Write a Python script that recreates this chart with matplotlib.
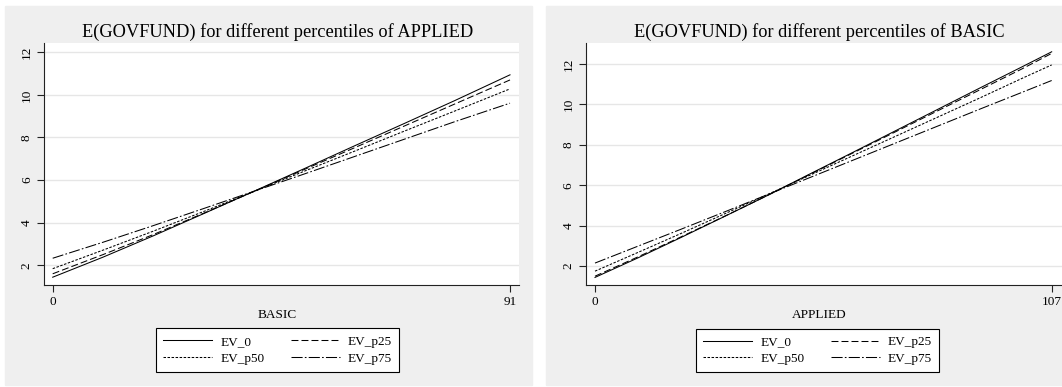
"""Two Stata-style panels: expected GOVFUND across one regressor, one line per percentile of the other."""

import matplotlib

matplotlib.use("Agg")
import matplotlib.pyplot as plt
from matplotlib.patches import Rectangle

W, H = 1062, 387

# ---- data --------------------------------------------------------------------------------------
series_names = ["EV_0", "EV_p25", "EV_p50", "EV_p75"]

basic_x = [0, 10, 20, 30, 40, 50, 60, 70, 80, 91]
left_ev_0 = [1.44, 2.38, 3.38, 4.42, 5.47, 6.53, 7.60, 8.66, 9.73, 10.94]
left_ev_p25 = [1.60, 2.50, 3.44, 4.44, 5.46, 6.49, 7.51, 8.54, 9.57, 10.70]
left_ev_p50 = [1.84, 2.71, 3.60, 4.52, 5.46, 6.41, 7.35, 8.30, 9.24, 10.28]
left_ev_p75 = [2.33, 3.08, 3.86, 4.66, 5.47, 6.28, 7.10, 7.92, 8.74, 9.61]

applied_x = [0, 10, 20, 30, 40, 50, 60, 70, 80, 90, 100, 107]
right_ev_0 = [1.44, 2.40, 3.40, 4.42, 5.45, 6.52, 7.58, 8.65, 9.72, 10.79, 11.85, 12.60]
right_ev_p25 = [1.50, 2.45, 3.43, 4.43, 5.45, 6.50, 7.55, 8.60, 9.65, 10.70, 11.75, 12.52]
right_ev_p50 = [1.75, 2.67, 3.60, 4.55, 5.50, 6.46, 7.42, 8.38, 9.34, 10.30, 11.28, 11.95]
right_ev_p75 = [2.15, 2.98, 3.81, 4.65, 5.50, 6.35, 7.20, 8.05, 8.90, 9.75, 10.59, 11.18]

y_ticks = [2, 4, 6, 8, 10, 12]

# ---- style ---------------------------------------------------------------------------------------
plt.rcParams["font.family"] = ["Liberation Serif", "DejaVu Serif"]
plt.rcParams["lines.scale_dashes"] = False

PANEL_BG = "#efefef"
GRID = "#e6e6e6"
AXIS = "#222222"
STYLES = [
    dict(ls="-"),
    dict(dashes=(5, 2.2)),
    dict(dashes=(1.8, 1.1)),
    dict(dashes=(8, 1.6, 1.2, 1.6)),
]


def fx(px):
    return px / W


def fy(py):
    return 1 - py / H


fig = plt.figure(figsize=(W / 100, H / 100), dpi=100)

# grey backgrounds behind each graph
for x0, x1 in [(5, 531.5), (546, 1062)]:
    fig.patches.append(Rectangle((fx(x0), fy(385)), fx(x1 - x0), (385 - 6) / H,
                                 transform=fig.transFigure, color=PANEL_BG, zorder=-10))

panels = [
    dict(box=(44, 519.3, 43.3, 285.3), xlim=(-1.73, 92.85), ylim=(1.06, 12.42), x=basic_x,
         ys=[left_ev_0, left_ev_p25, left_ev_p50, left_ev_p75], xticks=[0, 91],
         title="E(GOVFUND) for different percentiles of APPLIED", xlabel="BASIC",
         legend=(158, 397, 328, 372)),
    dict(box=(585.7, 1061.5, 43.3, 285.3), xlim=(-2.18, 109.3), ylim=(1.05, 13.02), x=applied_x,
         ys=[right_ev_0, right_ev_p25, right_ev_p50, right_ev_p75], xticks=[0, 107],
         title="E(GOVFUND) for different percentiles of BASIC", xlabel="APPLIED",
         legend=(699, 936, 329, 372)),
]

for p in panels:
    l, r, t, b = p["box"]
    ax = fig.add_axes([fx(l), fy(b), fx(r - l), (b - t) / H])
    ax.set_zorder(1)
    ax.set_facecolor("white")
    for yt in y_ticks:
        ax.axhline(yt, color=GRID, lw=1.0, zorder=0)
    for ys, name, st in zip(p["ys"], series_names, STYLES):
        ax.plot(p["x"], ys, color="black", lw=0.75, label=name, **st)
    ax.set_xlim(*p["xlim"])
    ax.set_ylim(*p["ylim"])
    ax.set_xticks(p["xticks"])
    ax.set_yticks(y_ticks)
    ax.set_yticklabels([str(v) for v in y_ticks], rotation=90, va="center")
    ax.tick_params(length=5, width=0.8, color=AXIS, labelsize=9.5, pad=3)
    for side in ("top", "right"):
        ax.spines[side].set_visible(False)
    for side in ("left", "bottom"):
        ax.spines[side].set_color(AXIS)
        ax.spines[side].set_linewidth(0.8)

    cx = (l + r) / 2
    fig.text(fx(cx - 4), fy(32), p["title"], ha="center", va="center", fontsize=13.2)
    fig.text(fx(cx - 4), fy(314.5), p["xlabel"], ha="center", va="center", fontsize=9.5)

    # legend box, Stata fills row-wise: EV_0 EV_p25 / EV_p50 EV_p75
    lx0, lx1, ly0, ly1 = p["legend"]
    handles, labels = ax.get_legend_handles_labels()
    order = [0, 2, 1, 3]
    leg = fig.legend([handles[i] for i in order], [labels[i] for i in order], ncol=2,
                     loc="center", bbox_to_anchor=(fx((lx0 + lx1) / 2), fy((ly0 + ly1) / 2)),
                     fontsize=9.5, frameon=True, fancybox=False, edgecolor="black",
                     framealpha=1, handlelength=3.7, handletextpad=0.6, columnspacing=2.0,
                     labelspacing=0.35, borderpad=0.55)
    leg.get_frame().set_linewidth(0.8)
    leg.set_zorder(2)

fig.savefig("out.png", dpi=100)
